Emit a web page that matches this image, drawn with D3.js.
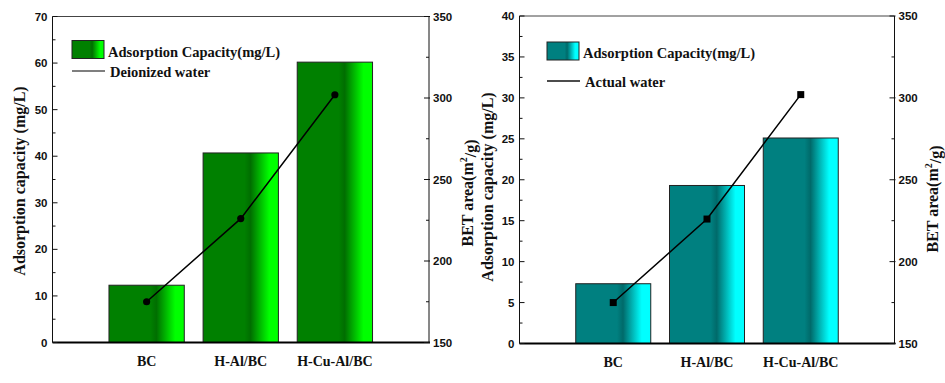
<!DOCTYPE html>
<html>
<head>
<meta charset="utf-8">
<script src="https://cdn.jsdelivr.net/npm/d3@7"></script>
<style>
  body { margin: 0; background: #fff; }
  .tick-label { font-family: "Liberation Sans", Arial, sans-serif; font-weight: bold; font-size: 11.5px; fill: #111; }
  .serif { font-family: "Liberation Serif", "Times New Roman", serif; font-weight: bold; fill: #111; }
</style>
</head>
<body>
<div id="chart"></div>
<script>
// Data
var categories = ["BC", "H-Al/BC", "H-Cu-Al/BC"];
var deionizedCapacity = [12.3, 40.7, 60.2];
var actualCapacity = [7.3, 19.3, 25.1];
var betArea = [175, 226, 302];

var svg = d3.select("#chart").append("svg")
    .attr("width", 945)
    .attr("height", 383);

var defs = svg.append("defs");

// Bar gradients (dark -> light at right edge)
function addGradient(id, base, dark, light) {
    var g = defs.append("linearGradient").attr("id", id)
        .attr("x1", 0).attr("x2", 1).attr("y1", 0).attr("y2", 0);
    g.append("stop").attr("offset", 0).attr("stop-color", base);
    g.append("stop").attr("offset", 0.55).attr("stop-color", base);
    g.append("stop").attr("offset", 0.63).attr("stop-color", dark);
    g.append("stop").attr("offset", 0.88).attr("stop-color", light);
    g.append("stop").attr("offset", 1).attr("stop-color", light);
}
addGradient("gGreen", "#008000", "#006e00", "#00ff00");
addGradient("gTeal", "#008080", "#006a6a", "#00ffff");

function drawPanel(p) {
    var x = d3.scaleLinear().domain([0, 4]).range([p.left, p.right]);
    var y = d3.scaleLinear().domain([0, p.yMax]).range([p.bottom, p.top]);
    var y2 = d3.scaleLinear().domain([150, 350]).range([p.bottom, p.top]);
    var g = svg.append("g");
    var barW = x(0.8) - x(0);

    // Bars
    g.selectAll(".bar")
        .data(p.values)
        .enter().append("rect")
        .attr("x", function(d, i) { return x(i + 1) - barW / 2; })
        .attr("y", function(d) { return y(d); })
        .attr("width", barW)
        .attr("height", function(d) { return y(0) - y(d); })
        .attr("fill", "url(#" + p.grad + ")")
        .attr("stroke", "#222")
        .attr("stroke-width", 1);

    // Frame: top + left + right thin, bottom thick
    g.append("line").attr("x1", p.left).attr("x2", p.right).attr("y1", p.top).attr("y2", p.top)
        .attr("stroke", "#444").attr("stroke-width", 1);
    g.append("line").attr("x1", p.left).attr("x2", p.left).attr("y1", p.top).attr("y2", p.bottom)
        .attr("stroke", "#111").attr("stroke-width", 1);
    g.append("line").attr("x1", p.right).attr("x2", p.right).attr("y1", p.top).attr("y2", p.bottom)
        .attr("stroke", "#111").attr("stroke-width", 1);
    g.append("line").attr("x1", p.left).attr("x2", p.right + 1).attr("y1", p.bottom).attr("y2", p.bottom)
        .attr("stroke", "#000").attr("stroke-width", 2);

    // Left axis ticks (inward)
    var leftMinor = d3.range(0, p.yMax + 0.001, p.yStep / 2);
    g.selectAll(".lt").data(leftMinor).enter().append("line")
        .attr("x1", p.left).attr("x2", function(d, i) { return p.left + (i % 2 === 0 ? 5 : 3); })
        .attr("y1", function(d) { return y(d); }).attr("y2", function(d) { return y(d); })
        .attr("stroke", "#111");
    g.selectAll(".ll").data(d3.range(0, p.yMax + 0.001, p.yStep)).enter().append("text")
        .attr("class", "tick-label")
        .attr("x", p.left - 5).attr("y", function(d) { return y(d); })
        .attr("dy", "0.36em").attr("text-anchor", "end")
        .text(function(d) { return d; });

    // Right axis ticks (inward)
    var rightMinor = d3.range(150, 351, 25);
    g.selectAll(".rt").data(rightMinor).enter().append("line")
        .attr("x1", function(d, i) { return p.right - (i % 2 === 0 ? 5 : 3); })
        .attr("x2", function(d, i) { return p.right + (i % 2 === 0 ? 1 : 0); })
        .attr("y1", function(d) { return y2(d); }).attr("y2", function(d) { return y2(d); })
        .attr("stroke", "#111");
    g.selectAll(".rl").data(d3.range(150, 351, 50)).enter().append("text")
        .attr("class", "tick-label")
        .attr("x", p.right + 4).attr("y", function(d) { return y2(d); })
        .attr("dy", "0.36em").attr("text-anchor", "start")
        .text(function(d) { return d; });

    // Category labels
    g.selectAll(".cl").data(categories).enter().append("text")
        .attr("class", "serif")
        .attr("font-size", "14px")
        .attr("x", function(d, i) { return x(i + 1); })
        .attr("y", p.bottom + 23)
        .attr("text-anchor", "middle")
        .text(function(d) { return d; });

    // BET line
    var line = d3.line()
        .x(function(d, i) { return x(i + 1); })
        .y(function(d) { return y2(d); });
    g.append("path").datum(betArea)
        .attr("d", line)
        .attr("fill", "none")
        .attr("stroke", "#000")
        .attr("stroke-width", 1.5);
    if (p.marker === "circle") {
        g.selectAll(".pt").data(betArea).enter().append("circle")
            .attr("cx", function(d, i) { return x(i + 1); })
            .attr("cy", function(d) { return y2(d); })
            .attr("r", 3.6).attr("fill", "#000");
    } else {
        g.selectAll(".pt").data(betArea).enter().append("rect")
            .attr("x", function(d, i) { return x(i + 1) - 3.5; })
            .attr("y", function(d) { return y2(d) - 3.5; })
            .attr("width", 7).attr("height", 7).attr("fill", "#000");
    }

    // Axis titles
    g.append("text").attr("class", "serif").attr("font-size", "16px")
        .attr("text-anchor", "middle")
        .attr("transform", "translate(" + p.ltX + "," + p.ltY + ") rotate(-90)")
        .attr("dy", "0.35em")
        .text("Adsorption capacity (mg/L)");
    var rt = g.append("text").attr("class", "serif").attr("font-size", "16px")
        .attr("text-anchor", "middle")
        .attr("transform", "translate(" + p.rtX + "," + p.rtY + ") rotate(-90)")
        .attr("dy", "0.35em");
    rt.append("tspan").text("BET area(m");
    rt.append("tspan").attr("font-size", "10px").attr("dy", "-0.6em").text("2");
    rt.append("tspan").attr("dy", "0.6em").text("/g)");

    // Legend
    g.append("rect").attr("x", p.legX).attr("y", p.legY)
        .attr("width", 32).attr("height", 18)
        .attr("fill", "url(#" + p.grad + ")")
        .attr("stroke", "#222");
    g.append("text").attr("class", "serif").attr("font-size", "14.5px")
        .attr("x", p.legX + 36).attr("y", p.legY + 16)
        .text("Adsorption Capacity(mg/L)");
    g.append("line").attr("x1", p.legX).attr("x2", p.legX + 33)
        .attr("y1", p.lineY).attr("y2", p.lineY)
        .attr("stroke", p.lineColor).attr("stroke-width", 1.5);
    g.append("text").attr("class", "serif").attr("font-size", "14.5px")
        .attr("x", p.legX + 38).attr("y", p.lineY + 5.5)
        .text(p.lineLabel);
}

drawPanel({
    left: 52.5, right: 429, top: 16.5, bottom: 342.5,
    yMax: 70, yStep: 10, values: deionizedCapacity, grad: "gGreen",
    marker: "circle", ltX: 19, ltY: 181, rtX: 467, rtY: 193,
    legX: 72, legY: 40.5, lineY: 71, lineColor: "#555", lineLabel: "Deionized water"
});

drawPanel({
    left: 519.5, right: 894.5, top: 16, bottom: 343.5,
    yMax: 40, yStep: 5, values: actualCapacity, grad: "gTeal",
    marker: "square", ltX: 487, ltY: 187, rtX: 932, rtY: 199,
    legX: 547, legY: 42, lineY: 81, lineColor: "#111", lineLabel: "Actual water"
});
</script>
</body>
</html>
